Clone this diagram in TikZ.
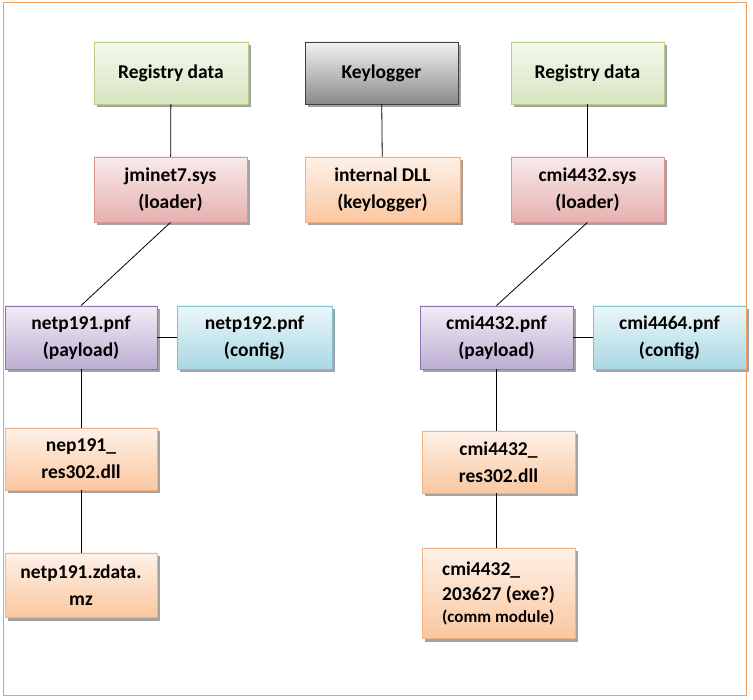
\documentclass[tikz,border=0pt]{standalone}
\usepackage{fontspec}
\setmainfont{Carlito}
\usetikzlibrary{shadows}
\definecolor{grnB}{HTML}{B5CF8A}
\definecolor{grnT}{HTML}{F4F8EE}
\definecolor{grnM}{HTML}{D7E5C0}
\definecolor{gryB}{HTML}{404040}
\definecolor{gryT}{HTML}{F2F2F2}
\definecolor{gryM}{HTML}{8A8A8A}
\definecolor{redB}{HTML}{D99694}
\definecolor{redT}{HTML}{FAEAEA}
\definecolor{redM}{HTML}{E6B0B0}
\definecolor{orgB}{HTML}{F4B183}
\definecolor{orgT}{HTML}{FEF1E8}
\definecolor{orgM}{HTML}{FAC79F}
\definecolor{purB}{HTML}{8B78AE}
\definecolor{purT}{HTML}{F1EDF6}
\definecolor{purM}{HTML}{BCAED2}
\definecolor{bluB}{HTML}{7FC3D6}
\definecolor{bluT}{HTML}{EBF6F9}
\definecolor{bluM}{HTML}{A9D8E5}
\definecolor{frame}{HTML}{F0A060}
\definecolor{shad}{HTML}{9A9A9A}
\tikzset{
  box/.style={rectangle, draw, line width=0.8pt, font=\bfseries\fontsize{19.5}{27}\selectfont,
    align=center, inner sep=2pt,
    drop shadow={shadow xshift=2.5pt, shadow yshift=-3.5pt, fill=shad, opacity=0.9}},
  grnbox/.style={box, draw=grnB, top color=grnT, bottom color=grnM},
  grybox/.style={box, draw=gryB, top color=gryT, bottom color=gryM},
  redbox/.style={box, draw=redB, top color=redT, bottom color=redM},
  orgbox/.style={box, draw=orgB, top color=orgT, bottom color=orgM},
  purbox/.style={box, draw=purB, top color=purT, bottom color=purM},
  blubox/.style={box, draw=bluB, top color=bluT, bottom color=bluM},
  link/.style={draw=black, line width=0.8pt}
}
\begin{document}
\begin{tikzpicture}[x=1pt,y=-1pt]
\useasboundingbox (0,0) rectangle (753,700);
\fill[white] (0,0) rectangle (753,700);
\node[grnbox, minimum width=154pt, minimum height=62pt] (reg1) at (171,73) {Registry data};
\node[grybox, minimum width=153pt, minimum height=62pt] (key) at (381.5,73) {Keylogger};
\node[grnbox, minimum width=153pt, minimum height=62pt] (reg2) at (587.5,73) {Registry data};
\node[redbox, minimum width=153pt, minimum height=65pt] (jm) at (170.5,189.5) {jminet7.sys\\(loader)};
\node[orgbox, minimum width=155pt, minimum height=65pt] (dll) at (382.5,189.5) {internal DLL\\(keylogger)};
\node[redbox, minimum width=153pt, minimum height=65pt] (cmisys) at (587.5,189.5) {cmi4432.sys\\(loader)};
\node[purbox, minimum width=152pt, minimum height=63pt] (np191) at (81,337.5) {netp191.pnf\\(payload)};
\node[blubox, minimum width=155pt, minimum height=63pt] (np192) at (254.5,337.5) {netp192.pnf\\(config)};
\node[purbox, minimum width=153pt, minimum height=63pt] (cmipnf) at (496.5,337.5) {cmi4432.pnf\\(payload)};
\node[blubox, minimum width=153pt, minimum height=63pt] (cmi4464) at (669.5,337.5) {cmi4464.pnf\\(config)};
\node[orgbox, minimum width=152pt, minimum height=62pt] (nep191) at (81,459) {nep191\_\\res302.dll};
\node[orgbox, minimum width=152pt, minimum height=64pt] (zdata) at (81,585) {netp191.zdata.\\mz};
\node[orgbox, minimum width=153pt, minimum height=90pt, align=left, font=\bfseries\fontsize{19.5}{25}\selectfont] (cmi203) at (498.5,593)
  {cmi4432\_\\203627 (exe?)\\[-3pt]{\fontsize{17}{22}\selectfont(comm module)}};
\node[orgbox, minimum width=153pt, minimum height=62pt] (cmires) at (498.5,462) {cmi4432\_\\res302.dll};
\draw[link] (reg1) -- (jm);
\draw[link] (key) -- (dll);
\draw[link] (reg2) -- (cmisys);
\draw[link] (jm.south) -- (np191.north);
\draw[link] (cmisys.south) -- (cmipnf.north);
\draw[link] (np191) -- (np192);
\draw[link] (cmipnf) -- (cmi4464);
\draw[link] (np191) -- (nep191);
\draw[link] (nep191) -- (zdata);
\draw[link] (cmipnf.south) -- (cmires.north -| cmipnf.south);
\draw[link] (cmires.south -| cmipnf.south) -- (cmi203.north -| cmipnf.south);
\draw[draw=frame, line width=1pt] (3,3) rectangle (746,695);
\end{tikzpicture}
\end{document}
